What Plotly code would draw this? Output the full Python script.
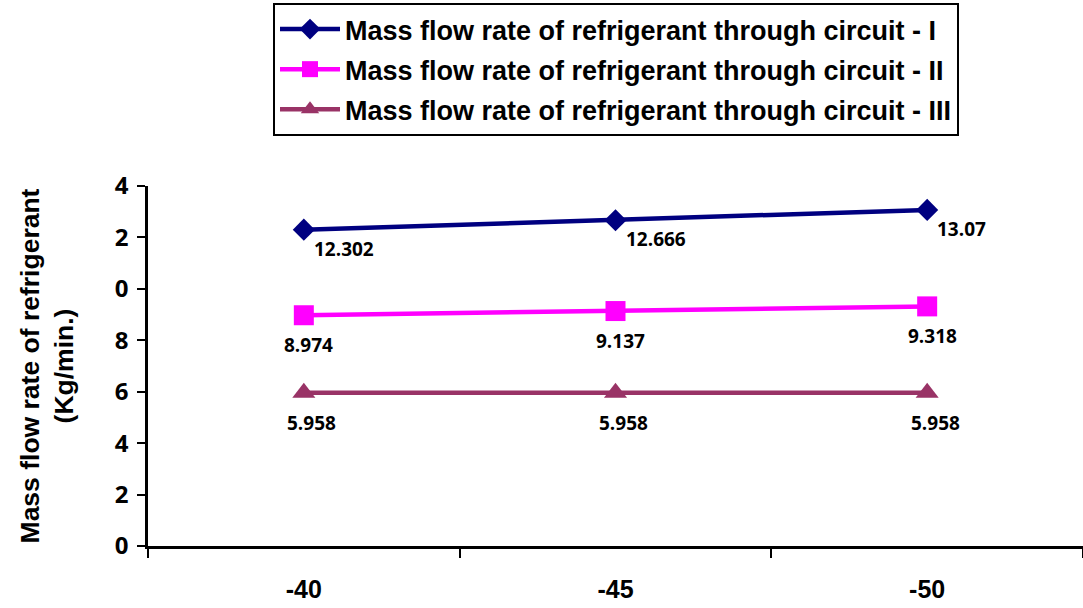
import plotly.graph_objects as go

# Evaporator temperature categories (x axis)
temperatures = ["-40", "-45", "-50"]

# Refrigerant mass flow rate per circuit (Kg/min.)
circuit_1 = [12.302, 12.666, 13.07]
circuit_2 = [8.974, 9.137, 9.318]
circuit_3 = [5.958, 5.958, 5.958]

series_names = [
    "Mass flow rate of refrigerant through circuit - I",
    "Mass flow rate of refrigerant through circuit - II",
    "Mass flow rate of refrigerant through circuit - III",
]

y_ticks = [0, 2, 4, 6, 8, 10, 12, 14]

series = [
    dict(values=circuit_1, name=series_names[0], color="#000080", symbol="diamond", size=17,
         anchor="left", xshift=8, yshift=-19),
    dict(values=circuit_2, name=series_names[1], color="#FF00FF", symbol="square", size=20,
         anchor="center", xshift=5, yshift=-30),
    dict(values=circuit_3, name=series_names[2], color="#993366", symbol="triangle-up", size=20,
         anchor="center", xshift=8, yshift=-30),
]

ARIAL = "Arial, Liberation Sans, sans-serif"
LABEL_FONT = "Open Sans, Carlito, Calibri, sans-serif"

fig = go.Figure()
annotations = []
for i, s in enumerate(series):
    fig.add_trace(go.Scatter(
        x=temperatures, y=s["values"], name=s["name"], mode="lines+markers",
        legendgroup=f"g{i}",
        line=dict(color=s["color"], width=4.5),
        marker=dict(symbol=s["symbol"], size=s["size"], color=s["color"]),
    ))
    # value labels, positioned on the category index of each point
    for idx, yv in enumerate(s["values"]):
        annotations.append(dict(
            x=idx, y=yv, xref="x", yref="y", text=f"{yv:g}", showarrow=False,
            xanchor=s["anchor"], yanchor="middle", xshift=s["xshift"], yshift=s["yshift"],
            font=dict(family=LABEL_FONT, size=19, color="black", weight="bold"),
        ))

fig.update_layout(
    width=1083, height=608,
    margin=dict(l=148, r=0, t=186, b=62),
    paper_bgcolor="white", plot_bgcolor="white",
    showlegend=True,
    legend=dict(
        x=(273 - 148) / 935, y=(546 - 3) / 360, xanchor="left", yanchor="top",
        bordercolor="black", borderwidth=2, bgcolor="white",
        font=dict(family=ARIAL, size=27, color="black", weight="bold"),
        tracegroupgap=2, itemwidth=60,
    ),
    annotations=annotations,
    xaxis=dict(
        type="category", range=[-0.5, 2.5],
        showline=True, linecolor="black", linewidth=2.5,
        ticks="outside", tickson="boundaries", ticklen=9, tickwidth=2, tickcolor="black",
        showgrid=False, zeroline=False,
        tickfont=dict(family=ARIAL, size=25, color="black", weight="bold"),
        ticklabelstandoff=19,
    ),
    yaxis=dict(
        range=[0, 14], tickvals=y_ticks, ticktext=[str(v) for v in y_ticks],
        showline=True, linecolor="black", linewidth=2.5,
        ticks="outside", ticklen=8, tickwidth=2, tickcolor="black",
        showgrid=False, zeroline=False,
        tickfont=dict(family=LABEL_FONT, size=24, color="black", weight="bold"),
        ticklabelstandoff=4,
        title=dict(
            text="Mass flow rate of refrigerant<br>(Kg/min.)",
            font=dict(family=ARIAL, size=26.5, color="black", weight="bold"),
            standoff=20,
        ),
    ),
    shapes=[
        # left edge of the chart frame trims the leading digit of the upper labels
        dict(type="rect", xref="paper", yref="paper", layer="above",
             x0=(90 - 148) / 935, x1=(112 - 148) / 935,
             y0=(546 - 300) / 360, y1=(546 - 170) / 360,
             fillcolor="white", line=dict(width=0)),
    ],
)

fig.write_html("out.html")
